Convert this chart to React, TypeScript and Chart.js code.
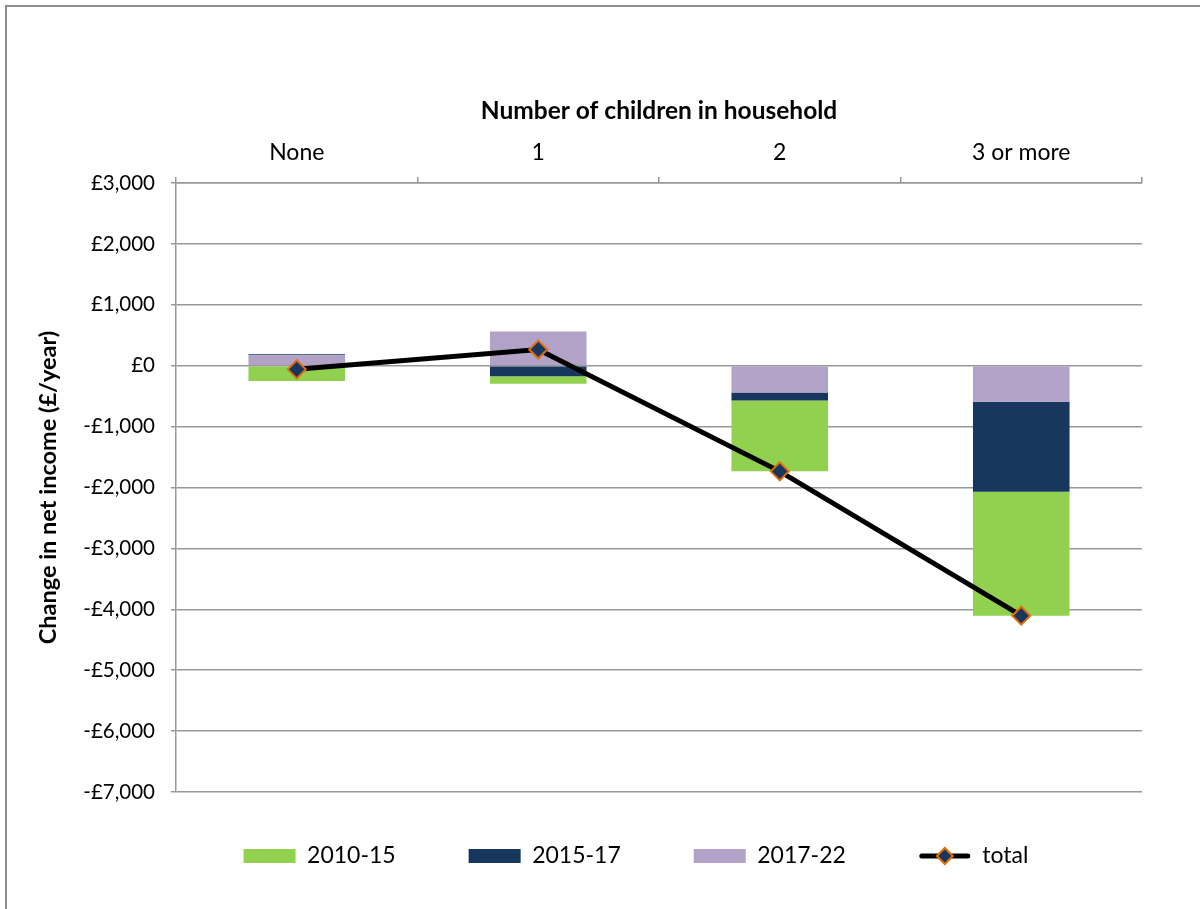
import React, { useEffect, useRef } from 'react';
import { Chart, registerables } from 'chart.js';

Chart.register(...registerables);

// ---- data ----
const categories = ['None', '1', '2', '3 or more'];
const series2010_15 = [-250, -120, -1165, -2035];
const series2015_17 = [20, -175, -130, -1480];
const series2017_22 = [170, 560, -440, -590];
const seriesTotal = [-60, 265, -1735, -4105];
const seriesNames = ['2010-15', '2015-17', '2017-22', 'total'];
const xTitle = 'Number of children in household';
const yTitle = 'Change in net income (£/year)';
const yMin = -7000;
const yMax = 3000;
const yStep = 1000;

// ---- styles ----
const GREEN = '#92d050';
const NAVY = '#17375e';
const PURPLE = '#b3a2c7';
const ORANGE = '#e46c0a';
const GRID = '#989898';
const FONT = 'Lato';
const LEGEND_BOX_W = 52;

const fmtPound = (v: number) => {
  const n = Number(v);
  const s = Math.abs(n).toLocaleString('en-GB');
  return (n < 0 ? '-' : '') + '£' + s;
};

const framePlugin = {
  id: 'frame',
  beforeDraw(chart: any) {
    const ctx = chart.ctx;
    ctx.save();
    ctx.strokeStyle = '#8e8e8e';
    ctx.lineWidth = 2;
    ctx.beginPath();
    ctx.moveTo(6, chart.height + 5);
    ctx.lineTo(6, 6);
    ctx.lineTo(chart.width + 5, 6);
    ctx.stroke();
    ctx.restore();
  },
};

const legendShiftPlugin = {
  id: 'legendShift',
  afterLayout(chart: any) {
    const lg = chart.legend;
    if (!lg) return;
    const dx = 636 - (lg.left + lg.right) / 2;
    const dy = 771.5 - lg.top;
    lg.left += dx;
    lg.right += dx;
    lg.top += dy;
    lg.bottom += dy;
  },
};

const legendTotalPlugin = {
  id: 'legendTotal',
  afterDraw(chart: any) {
    const lg = chart.legend;
    if (!lg || !lg.legendItems) return;
    const idx = lg.legendItems.findIndex((it: any) => it.text === seriesNames[3]);
    if (idx < 0) return;
    const hb = lg.legendHitBoxes[idx];
    const cy = hb.top + hb.height / 2;
    const x0 = hb.left;
    const x1 = x0 + LEGEND_BOX_W;
    const ctx = chart.ctx;
    ctx.save();
    ctx.strokeStyle = '#000';
    ctx.lineWidth = 5;
    ctx.lineCap = 'round';
    ctx.beginPath();
    ctx.moveTo(x0 + 3, cy);
    ctx.lineTo(x1 - 3, cy);
    ctx.stroke();
    const cx = (x0 + x1) / 2;
    const r = 8;
    ctx.beginPath();
    ctx.moveTo(cx, cy - r);
    ctx.lineTo(cx + r, cy);
    ctx.lineTo(cx, cy + r);
    ctx.lineTo(cx - r, cy);
    ctx.closePath();
    ctx.fillStyle = NAVY;
    ctx.fill();
    ctx.strokeStyle = ORANGE;
    ctx.lineWidth = 2;
    ctx.lineCap = 'butt';
    ctx.stroke();
    ctx.restore();
  },
};

const legendRank = [2, 1, 0, 3];

export default function App() {
  const canvasRef = useRef<HTMLCanvasElement | null>(null);

  useEffect(() => {
    if (!canvasRef.current) return;
    Chart.defaults.color = '#000';
    Chart.defaults.font.family = FONT;

    const chart = new Chart(canvasRef.current, {
      type: 'bar',
      data: {
        labels: categories,
        datasets: [
          { type: 'bar', label: seriesNames[2], data: series2017_22, backgroundColor: PURPLE, borderWidth: 0, order: 1 },
          { type: 'bar', label: seriesNames[1], data: series2015_17, backgroundColor: NAVY, borderWidth: 0, order: 1 },
          { type: 'bar', label: seriesNames[0], data: series2010_15, backgroundColor: GREEN, borderWidth: 0, order: 1 },
          {
            type: 'line',
            label: seriesNames[3],
            data: seriesTotal,
            borderColor: '#000',
            backgroundColor: NAVY,
            borderWidth: 5,
            pointStyle: 'rectRot',
            pointRadius: 9,
            pointBackgroundColor: NAVY,
            pointBorderColor: ORANGE,
            pointBorderWidth: 2,
            tension: 0,
            order: 0,
            stack: 'totalStack',
          } as any,
        ],
      },
      options: {
        animation: false,
        responsive: false,
        maintainAspectRatio: false,
        layout: { padding: { left: 0, top: 0, right: 58, bottom: 11 } },
        datasets: { bar: { barPercentage: 1, categoryPercentage: 0.4 } } as any,
        scales: {
          x: {
            position: 'top',
            stacked: true,
            offset: true,
            afterFit: (s: any) => { s.height = 183; },
            grid: { offset: true, drawOnChartArea: false, drawTicks: true, tickLength: 6, color: GRID, lineWidth: 1.5 },
            border: { display: true, color: GRID, width: 1.5 },
            ticks: { font: { family: FONT, size: 23 }, color: '#000', padding: 11, maxRotation: 0, autoSkip: false },
            title: { display: true, text: xTitle, font: { family: FONT, size: 24.5, weight: 'bold' }, color: '#000', padding: { top: 96, bottom: 0 } },
          },
          y: {
            stacked: true,
            min: yMin,
            max: yMax,
            afterFit: (s: any) => { s.width = 176; },
            grid: { color: GRID, lineWidth: 1.5, drawTicks: true, tickLength: 5 },
            border: { display: true, color: GRID, width: 1.5 },
            ticks: { stepSize: yStep, font: { family: FONT, size: 20.5 }, color: '#000', padding: 16, callback: (v: any) => fmtPound(v) },
            title: { display: true, text: yTitle, font: { family: FONT, size: 23.5, weight: 'bold' }, color: '#000', padding: { top: 34, bottom: 0 } },
          },
        },
        plugins: {
          tooltip: { enabled: false },
          legend: {
            position: 'bottom',
            labels: {
              boxWidth: LEGEND_BOX_W,
              boxHeight: 14,
              padding: 73,
              color: '#000',
              font: { family: FONT, size: 23 },
              sort: (a: any, b: any) => legendRank[a.datasetIndex] - legendRank[b.datasetIndex],
              generateLabels: (c: any) => {
                const items = (Chart.defaults.plugins.legend.labels as any).generateLabels(c);
                return items.map((it: any) => {
                  if (it.text === seriesNames[3]) {
                    return { ...it, fillStyle: 'rgba(0,0,0,0)', strokeStyle: 'rgba(0,0,0,0)', lineWidth: 0 };
                  }
                  return { ...it, lineWidth: 0 };
                });
              },
            },
          },
        },
      },
      plugins: [framePlugin, legendShiftPlugin, legendTotalPlugin],
    } as any);

    return () => chart.destroy();
  }, []);

  return (
    <div style={{ position: 'absolute', left: 0, top: 0, width: 1200, height: 909, background: '#fff' }}>
      <canvas ref={canvasRef} width={1200} height={909} style={{ display: 'block', width: 1200, height: 909 }} />
    </div>
  );
}
